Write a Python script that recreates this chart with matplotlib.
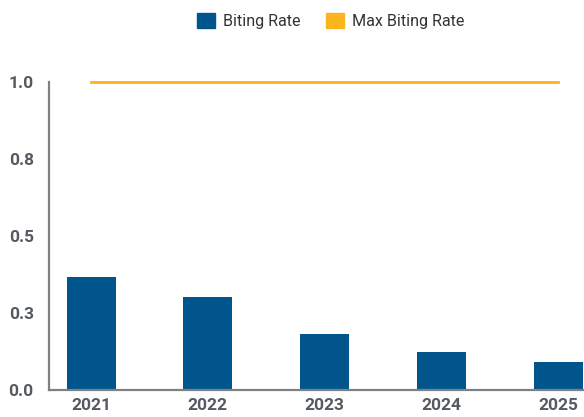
import matplotlib.pyplot as plt
from matplotlib.patches import Patch
from matplotlib.ticker import FuncFormatter

years = ["2021", "2022", "2023", "2024", "2025"]
biting_rate = [0.368, 0.302, 0.182, 0.123, 0.092]
max_biting_rate = [1.0, 1.0, 1.0, 1.0, 1.0]
y_ticks = [0.0, 0.25, 0.5, 0.75, 1.0]

blue = "#00558c"
orange = "#fbb41c"
grey = "#555a60"

plt.rcParams["font.family"] = ["Roboto", "DejaVu Sans"]

fig = plt.figure(figsize=(5.84, 4.17), dpi=100)
ax = fig.add_axes([49 / 584, 27 / 417, 1 - 49 / 584, 308 / 417])

x = list(range(len(years)))
ax.bar(x, biting_rate, width=0.42, color=blue, zorder=2)
ax.plot(x, max_biting_rate, color=orange, linewidth=2, zorder=3, clip_on=False)

ax.set_xlim(-0.36, 4.22)
ax.set_ylim(0, 1.0)
ax.set_xticks(x)
ax.set_xticklabels(years)
ax.set_yticks(y_ticks)
# labels rounded half-up to one decimal (0.25 -> 0.3)
ax.yaxis.set_major_formatter(FuncFormatter(lambda v, p: f"{v + 1e-9:.1f}"))

for lab in ax.get_xticklabels() + ax.get_yticklabels():
    lab.set_fontweight("bold")
    lab.set_fontsize(12.5)
    lab.set_color(grey)
ax.tick_params(axis="both", length=0)
ax.tick_params(axis="x", pad=6)
ax.tick_params(axis="y", pad=11)

for side in ["top", "right"]:
    ax.spines[side].set_visible(False)
for side in ["left", "bottom"]:
    ax.spines[side].set_visible(True)
    ax.spines[side].set_color("#7d8186")
    ax.spines[side].set_linewidth(1.6)
    ax.spines[side].set_zorder(4)

handles = [Patch(color=blue, label="Biting Rate"), Patch(color=orange, label="Max Biting Rate")]
fig.legend(handles=handles, loc="center", bbox_to_anchor=(331 / 584, 1 - 21 / 417),
           ncol=2, frameon=False, fontsize=11.6, handlelength=1.1, handleheight=1.1,
           handletextpad=0.5, columnspacing=1.6, labelcolor="#333333")

fig.savefig("out.png", dpi=100)
